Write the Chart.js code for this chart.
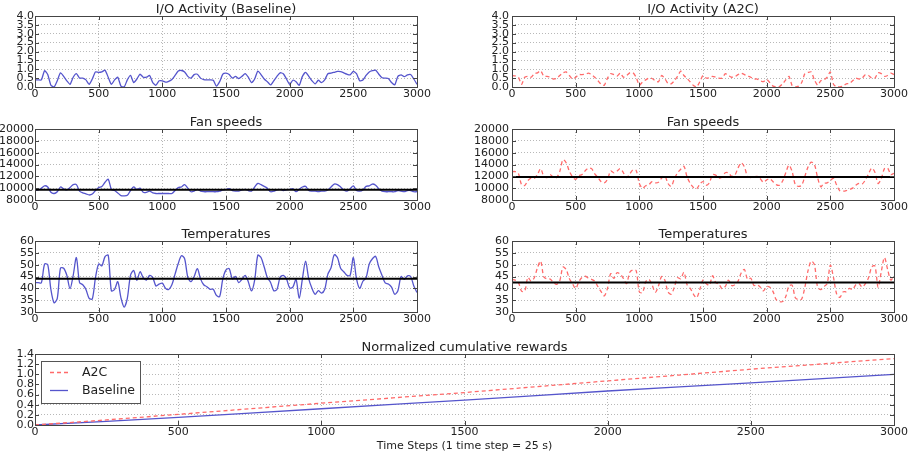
<!DOCTYPE html>
<html>
<head>
<meta charset="utf-8">
<title>Baseline vs A2C</title>
<script src="https://cdn.jsdelivr.net/npm/chart.js"></script>
<style>
  html, body { margin: 0; padding: 0; background: #fff; }
  #figure { position: relative; width: 916px; height: 454px; overflow: hidden; }
  #figure canvas { position: absolute; }
</style>
</head>
<body>
<div id="figure">
  <canvas id="io_baseline"   width="433" height="107" style="left:0px;top:0px"></canvas>
  <canvas id="io_a2c"        width="458" height="107" style="left:458px;top:0px"></canvas>
  <canvas id="fan_baseline"  width="433" height="107" style="left:0px;top:113px"></canvas>
  <canvas id="fan_a2c"       width="458" height="107" style="left:458px;top:113px"></canvas>
  <canvas id="temp_baseline" width="433" height="107" style="left:0px;top:225px"></canvas>
  <canvas id="temp_a2c"      width="458" height="107" style="left:458px;top:225px"></canvas>
  <canvas id="rewards"       width="916" height="116" style="left:0px;top:338px"></canvas>
</div>
<script>
// one sample every 25 time steps, 0..3000
const STEP = 25;
const T_MAX = 3000;

const ioBaseline = [
  0.40, 0.40, 0.40, 0.92, 0.70, 0.10, 0.00, 0.35, 0.80, 0.60,
  0.35, 0.15, 0.55, 0.75, 0.50, 0.50, 0.40, 0.15, 0.45, 0.85,
  0.82, 0.85, 0.95, 0.55, 0.15, 0.40, 0.55, 0.05, 0.00, 0.40,
  0.65, 0.25, 0.45, 0.72, 0.55, 0.55, 0.65, 0.25, 0.10, 0.35,
  0.35, 0.27, 0.32, 0.42, 0.65, 0.90, 0.93, 0.85, 0.60, 0.50,
  0.70, 0.72, 0.50, 0.42, 0.40, 0.40, 0.38, 0.05, 0.30, 0.72,
  0.78, 0.70, 0.50, 0.60, 0.48, 0.60, 0.75, 0.55, 0.25, 0.45,
  0.90, 0.70, 0.45, 0.30, 0.12, 0.35, 0.60, 0.80, 0.75, 0.45,
  0.15, 0.38, 0.30, 0.10, 0.60, 0.82, 0.60, 0.35, 0.18, 0.38,
  0.25, 0.40, 0.75, 0.78, 0.83, 0.88, 0.87, 0.80, 0.72, 0.68,
  0.88, 0.75, 0.35, 0.40, 0.65, 0.85, 0.92, 0.95, 0.72, 0.52,
  0.50, 0.48, 0.25, 0.12, 0.60, 0.68, 0.58, 0.68, 0.70, 0.45,
  0.15
];
const ioA2C = [
  0.65, 0.62, 0.55, 0.15, 0.55, 0.60, 0.55, 0.75, 0.80, 0.92,
  0.60, 0.60, 0.55, 0.45, 0.48, 0.65, 0.80, 0.85, 0.65, 0.45,
  0.55, 0.70, 0.70, 0.72, 0.78, 0.70, 0.55, 0.35, 0.15, 0.10,
  0.50, 0.75, 0.70, 0.62, 0.78, 0.55, 0.65, 0.80, 0.80, 0.55,
  0.10, 0.28, 0.40, 0.50, 0.48, 0.35, 0.30, 0.65, 0.48, 0.20,
  0.18, 0.35, 0.60, 0.90, 0.65, 0.48, 0.28, 0.08, 0.00, 0.30,
  0.65, 0.50, 0.52, 0.60, 0.55, 0.50, 0.50, 0.75, 0.65, 0.55,
  0.58, 0.70, 0.78, 0.70, 0.62, 0.55, 0.45, 0.45, 0.35, 0.30,
  0.42, 0.25, 0.05, 0.00, 0.02, 0.18, 0.40, 0.60, 0.08, 0.00,
  0.05, 0.25, 0.75, 0.82, 0.85, 0.40, 0.10, 0.35, 0.40, 0.55,
  0.85, 0.15, 0.00, 0.00, 0.05, 0.18, 0.20, 0.35, 0.50, 0.45,
  0.50, 0.70, 0.65, 0.50, 0.50, 0.80, 0.75, 0.60, 0.65, 0.78,
  0.70
];
const fanBaseline = [
  9700, 9700, 10000, 10400, 10200, 9300, 9100, 9400, 10200, 9900,
  9700, 10100, 10600, 10600, 9500, 9200, 9050, 8850, 9000, 9600,
  10100, 10300, 11000, 11500, 9800, 9600, 9200, 8750, 8700, 8800,
  9600, 10200, 9800, 10000, 9300, 9300, 9500, 9200, 9100, 9100,
  9100, 9100, 9100, 9100, 9600, 10100, 10200, 10600, 10000, 9400,
  9500, 9800, 9500, 9400, 9400, 9400, 9400, 9400, 9500, 9700,
  9800, 9900, 9600, 9500, 9500, 9700, 9800, 9600, 9500, 10200,
  10800, 10600, 10300, 10000, 9400, 9500, 9700, 9800, 9600, 9700,
  9800, 9900, 9400, 9800, 10200, 10300, 9600, 9500, 9500, 9400,
  9500, 9500, 9700, 10200, 10700, 10600, 10200, 9700, 9500, 9900,
  10400, 9600, 9500, 9700, 10300, 10400, 10700, 10500, 9900, 9500,
  9400, 9400, 9400, 9400, 9600, 9500, 9400, 9600, 9600, 9400,
  9400
];
const fanA2C = [
  12800, 12800, 12500, 10600, 10450, 11300, 11700, 11650, 12300, 13300,
  12000, 11800, 12300, 11800, 11800, 12800, 14800, 14300, 12900, 11900,
  11500, 12100, 12300, 12950, 13400, 13300, 12400, 11800, 11100, 10900,
  11500, 12900, 12600, 12900, 13300, 12600, 11800, 12400, 13100, 13000,
  10800, 10000, 10400, 10600, 11100, 10900, 11000, 11700, 12100, 10800,
  10300, 11600, 12600, 13200, 13700, 11900, 10800, 10100, 9900, 10700,
  11100, 10500, 10900, 12300, 12200, 11700, 11900, 12600, 12600, 12000,
  12200, 13400, 14300, 13600, 12000, 11800, 11900, 12000, 11600, 11000,
  11400, 11600, 11100, 10600, 10500, 11200, 12600, 13900, 12800, 10600,
  10300, 10500, 12000, 13600, 14400, 14000, 11800, 10250, 10800, 10900,
  11300, 11700, 10500, 9550, 9500, 9600, 9800, 10000, 10500, 10800,
  10700, 11400, 12400, 13400, 12700, 10800, 11600, 13300, 13400, 12300,
  12500
];
const tempBaseline = [
  42.4, 42.4, 42.3, 50.2, 50.0, 39.5, 33.9, 35.8, 48.5, 48.5,
  45.5, 39.9, 45.5, 53.0, 42.4, 41.5, 39.5, 35.8, 35.5, 44.5,
  50.3, 49.5, 53.4, 54.0, 38.9, 39.6, 42.8, 36.0, 32.1, 35.8,
  45.5, 47.5, 43.4, 47.0, 44.5, 43.5, 45.5, 44.5, 41.0, 41.8,
  42.2, 40.0, 39.5, 41.5, 46.0, 50.5, 53.8, 52.5, 44.7, 42.8,
  45.0, 48.3, 44.0, 41.5, 40.7, 39.6, 39.6, 37.0, 36.5, 44.0,
  47.8, 48.3, 44.0, 45.0, 42.4, 43.8, 45.5, 42.8, 38.9, 43.5,
  54.0, 53.0, 49.0, 44.5, 42.5, 39.0, 39.5, 44.7, 45.5, 44.0,
  40.2, 40.5, 43.8, 35.8, 44.0, 51.5, 44.0, 40.0, 37.5, 39.0,
  38.0, 39.5, 46.0, 48.7, 54.2, 53.0, 48.5, 47.0, 45.5, 45.5,
  53.0, 44.0, 40.0, 43.0, 44.5, 50.3, 52.5, 53.5, 49.0, 45.5,
  42.3, 41.8, 40.5, 37.5, 39.0, 45.0, 43.8, 45.3, 45.0, 41.0,
  38.2
];
const tempA2C = [
  43.8, 43.5, 42.5, 38.8, 38.8, 44.6, 43.0, 44.5, 48.7, 51.5,
  44.8, 44.0, 43.9, 42.5, 41.7, 43.2, 49.0, 48.0, 44.2, 42.0,
  39.9, 42.8, 44.6, 45.1, 44.3, 43.8, 43.0, 40.7, 38.6, 36.8,
  40.0, 46.2, 44.2, 46.6, 46.0, 44.2, 42.0, 46.8, 47.8, 47.5,
  38.5, 38.2, 42.8, 43.8, 41.5, 38.3, 41.0, 45.0, 43.5, 38.5,
  37.5, 40.5, 44.5, 44.0, 46.8, 41.5, 40.0, 37.5, 36.0, 39.5,
  43.5, 42.0, 41.3, 45.3, 42.4, 41.8, 39.8, 40.8, 43.5, 41.2,
  41.5, 43.0, 46.5, 48.0, 43.8, 44.3, 41.2, 41.5, 40.5, 38.9,
  40.8, 40.5, 38.6, 35.2, 34.4, 34.4, 36.5, 41.0, 41.3, 36.0,
  35.2, 35.5, 40.5, 47.5, 51.5, 50.0, 40.5, 39.5, 40.7, 42.0,
  49.8, 44.5, 37.5, 36.2, 38.5, 38.6, 40.0, 39.5, 41.5, 42.0,
  40.5, 42.0, 44.5, 49.0, 49.5, 40.5, 47.0, 53.0, 48.0, 43.5,
  45.2
];

// horizontal reference levels drawn in black
const fanLevels = [9750, 11900];
const tempLevels = [44.0, 42.5];

// cumulative rewards, one sample every 250 steps
const REWARD_STEP = 250;
const rewardA2C = [0, 0.10, 0.21, 0.32, 0.43, 0.535, 0.64, 0.755, 0.87, 0.985, 1.10, 1.205, 1.31];
const rewardBaseline = [0, 0.07, 0.15, 0.235, 0.32, 0.405, 0.49, 0.58, 0.67, 0.75, 0.83, 0.915, 1.0];

const BLUE = '#5555cc';
const RED = '#ff6a6a';
const TEXT = '#222';

Chart.defaults.font.family = "'DejaVu Sans', sans-serif";
Chart.defaults.font.size = 11;
Chart.defaults.color = TEXT;

// matplotlib-like box around the plot with inward tick marks
const frame = {
    id: 'frame',
    afterDraw(chart) {
        const {ctx, chartArea: a, scales} = chart;
        ctx.save();
        ctx.strokeStyle = '#444';
        ctx.lineWidth = 1;
        ctx.strokeRect(a.left + 0.5, a.top + 0.5, a.right - a.left, a.bottom - a.top);
        ctx.beginPath();
        scales.x.ticks.forEach(function (t) {
            const px = Math.round(scales.x.getPixelForValue(t.value)) + 0.5;
            ctx.moveTo(px, a.top); ctx.lineTo(px, a.top + 4);
            ctx.moveTo(px, a.bottom); ctx.lineTo(px, a.bottom - 4);
        });
        scales.y.ticks.forEach(function (t) {
            const py = Math.round(scales.y.getPixelForValue(t.value)) + 0.5;
            ctx.moveTo(a.left, py); ctx.lineTo(a.left + 4, py);
            ctx.moveTo(a.right, py); ctx.lineTo(a.right - 4, py);
        });
        ctx.stroke();
        ctx.restore();
    }
};

// boxed legend in the upper left corner of the plot
const legendBox = {
    id: 'legendBox',
    afterDraw(chart) {
        const {ctx, chartArea: a} = chart;
        const x = a.left + 6, y = a.top + 7, w = 99, h = 42;
        ctx.save();
        ctx.fillStyle = '#fff';
        ctx.fillRect(x, y, w, h);
        ctx.strokeStyle = '#555';
        ctx.lineWidth = 1;
        ctx.strokeRect(x + 0.5, y + 0.5, w, h);
        ctx.font = "12.5px 'DejaVu Sans', sans-serif";
        ctx.textBaseline = 'middle';
        chart.data.datasets.forEach(function (ds, i) {
            const ly = y + 11.5 + i * 18;
            ctx.strokeStyle = ds.borderColor;
            ctx.lineWidth = ds.borderWidth;
            ctx.setLineDash(ds.borderDash || []);
            ctx.beginPath();
            ctx.moveTo(x + 9, ly);
            ctx.lineTo(x + 27, ly);
            ctx.stroke();
            ctx.setLineDash([]);
            ctx.fillStyle = TEXT;
            ctx.fillText(ds.label, x + 41, ly);
        });
        ctx.restore();
    }
};

function series(values, step) {
    return values.map(function (v, i) { return {x: i * step, y: v}; });
}

function level(v) {
    return {data: [{x: 0, y: v}, {x: T_MAX, y: v}], borderColor: '#000', borderWidth: 2, pointRadius: 0, tension: 0, order: 0};
}

function panel(id, cfg) {
    const datasets = cfg.datasets.map(function (d) {
        return Object.assign({pointRadius: 0, tension: cfg.tension || 0, borderWidth: 1.3, order: 1}, d);
    });
    if (cfg.level !== undefined) datasets.unshift(level(cfg.level));

    return new Chart(document.getElementById(id), {
        type: 'line',
        data: {datasets: datasets},
        options: {
            responsive: false,
            animation: false,
            events: [],
            layout: {padding: {left: 0, right: cfg.padRight, top: 0, bottom: 0}},
            plugins: {
                legend: {display: false},
                tooltip: {enabled: false},
                title: {
                    display: true,
                    text: cfg.title,
                    fullSize: false,
                    color: TEXT,
                    font: {size: 13, weight: 'normal', lineHeight: 1},
                    padding: {top: 3, bottom: 0}
                }
            },
            scales: {
                x: {
                    type: 'linear',
                    min: 0,
                    max: T_MAX,
                    grid: {color: '#b8b8b8', drawTicks: false},
                    border: {display: false, dash: [1, 2]},
                    ticks: {stepSize: 500, padding: 1, color: TEXT, maxRotation: 0, callback: plain},
                    title: cfg.xTitle ? {display: true, text: cfg.xTitle, color: TEXT, font: {size: 11}, padding: {top: 0, bottom: 1}} : {display: false},
                    afterFit: function (scale) { scale.height = cfg.xHeight; }
                },
                y: {
                    min: cfg.yMin,
                    max: cfg.yMax,
                    grid: {color: '#b8b8b8', drawTicks: false},
                    border: {display: false, dash: [1, 2]},
                    ticks: {stepSize: cfg.yStep, padding: cfg.yPad, autoSkip: false, color: TEXT, callback: cfg.yFormat},
                    afterFit: function (scale) { scale.width = cfg.yWidth; }
                }
            }
        },
        plugins: cfg.legend ? [frame, legendBox] : [frame]
    });
}

function oneDecimal(v) { return v.toFixed(1); }
function plain(v) { return String(v); }

const left = {padRight: 16, yWidth: 35, yPad: 1, xHeight: 20};
const right = {padRight: 22, yWidth: 54, yPad: 3, xHeight: 20};

panel('io_baseline', Object.assign({
    title: 'I/O Activity (Baseline)', yMin: 0, yMax: 4, yStep: 0.5, yFormat: oneDecimal, tension: 0.2,
    datasets: [{data: series(ioBaseline, STEP), borderColor: BLUE}]
}, left));
panel('io_a2c', Object.assign({
    title: 'I/O Activity (A2C)', yMin: 0, yMax: 4, yStep: 0.5, yFormat: oneDecimal, tension: 0.2,
    datasets: [{data: series(ioA2C, STEP), borderColor: RED, borderDash: [4, 3]}]
}, right));
panel('fan_baseline', Object.assign({
    title: 'Fan speeds', yMin: 8000, yMax: 20000, yStep: 2000, yFormat: plain, level: fanLevels[0], tension: 0.3,
    datasets: [{data: series(fanBaseline, STEP), borderColor: BLUE}]
}, left));
panel('fan_a2c', Object.assign({
    title: 'Fan speeds', yMin: 8000, yMax: 20000, yStep: 2000, yFormat: plain, level: fanLevels[1], tension: 0.3,
    datasets: [{data: series(fanA2C, STEP), borderColor: RED, borderDash: [4, 3]}]
}, right));
panel('temp_baseline', Object.assign({
    title: 'Temperatures', yMin: 30, yMax: 60, yStep: 5, yFormat: plain, level: tempLevels[0], tension: 0.3,
    datasets: [{data: series(tempBaseline, STEP), borderColor: BLUE}]
}, left));
panel('temp_a2c', Object.assign({
    title: 'Temperatures', yMin: 30, yMax: 60, yStep: 5, yFormat: plain, level: tempLevels[1], tension: 0.3,
    datasets: [{data: series(tempA2C, STEP), borderColor: RED, borderDash: [4, 3]}]
}, right));

panel('rewards', {
    title: 'Normalized cumulative rewards', yMin: 0, yMax: 1.4, yStep: 0.2, yFormat: oneDecimal,
    padRight: 22, yWidth: 35, yPad: 1, xHeight: 29, legend: true,
    xTitle: 'Time Steps (1 time step = 25 s)',
    datasets: [
        {label: 'A2C', data: series(rewardA2C, REWARD_STEP), borderColor: RED, borderDash: [4, 3]},
        {label: 'Baseline', data: series(rewardBaseline, REWARD_STEP), borderColor: BLUE}
    ]
});
</script>
</body>
</html>
